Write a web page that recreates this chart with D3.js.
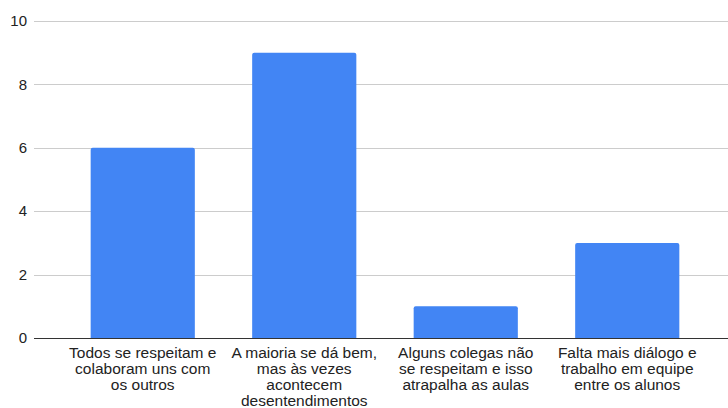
<!DOCTYPE html>
<html><head><meta charset="utf-8">
<script src="https://cdn.jsdelivr.net/npm/d3@7"></script>
<style>body{margin:0;background:#fff}</style>
</head><body>
<svg id="c" width="728" height="408"></svg>
<script>
const categories = [
  ["Todos se respeitam e","colaboram uns com","os outros"],
  ["A maioria se dá bem,","mas às vezes","acontecem","desentendimentos"],
  ["Alguns colegas não","se respeitam e isso","atrapalha as aulas"],
  ["Falta mais diálogo e","trabalho em equipe","entre os alunos"]
];
const values = [6, 9, 1, 3];
const yTicks = [0, 2, 4, 6, 8, 10];

const svg = d3.select("#c");
const font = "Liberation Sans, Arial, sans-serif";
const x = d3.scaleBand().domain(d3.range(categories.length)).range([62, 708]).paddingInner(0.355).paddingOuter(0.1775);
const y = d3.scaleLinear().domain([0, 10]).range([338, 21]);

const g = svg.append("g");
g.selectAll("line.grid").data(yTicks.filter(d => d !== 0)).enter().append("line")
  .attr("x1", 34).attr("x2", 728).attr("y1", d => Math.round(y(d)) + 0.5).attr("y2", d => Math.round(y(d)) + 0.5)
  .attr("stroke", "#cccccc").attr("stroke-width", 1);

g.selectAll("text.yt").data(yTicks).enter().append("text")
  .attr("x", 27).attr("y", d => y(d)).attr("dy", "0.35em").attr("text-anchor", "end")
  .attr("font-family", font).attr("font-size", 15).attr("fill", "#222").text(d => d);

g.selectAll("path.bar").data(values).enter().append("path")
  .attr("fill", "#4285f4")
  .attr("d", (d, i) => {
    const x0 = x(i), w = x.bandwidth(), y0 = y(d), y1 = y(0), r = 2;
    return `M${x0},${y1}V${y0 + r}Q${x0},${y0} ${x0 + r},${y0}H${x0 + w - r}Q${x0 + w},${y0} ${x0 + w},${y0 + r}V${y1}Z`;
  });

g.append("line").attr("x1", 34).attr("x2", 728).attr("y1", 338.5).attr("y2", 338.5)
  .attr("stroke", "#333333").attr("stroke-width", 1);

categories.forEach((lines, i) => {
  const t = g.append("text").attr("text-anchor", "middle").attr("font-family", font)
    .attr("font-size", 15.5).attr("fill", "#222");
  lines.forEach((ln, j) => {
    t.append("tspan").attr("x", x(i) + x.bandwidth() / 2).attr("y", 358 + j * 16).text(ln);
  });
});
</script>
</body></html>
